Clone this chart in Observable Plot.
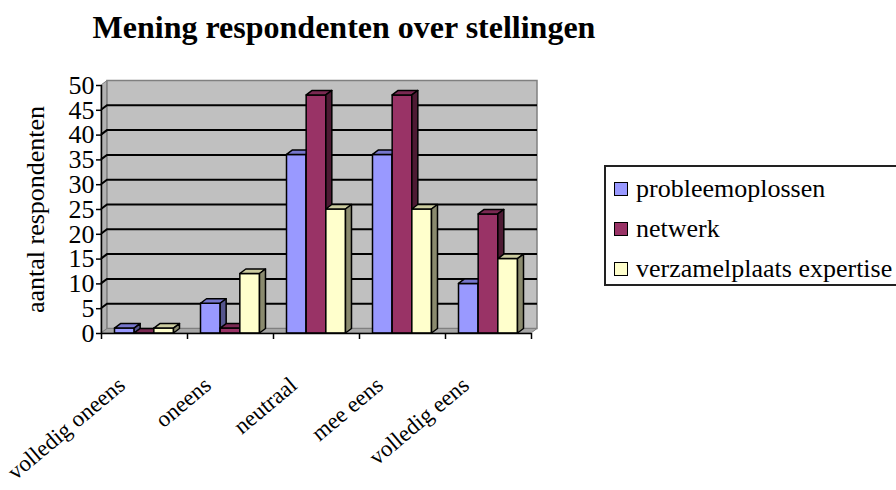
<!DOCTYPE html>
<html>
<head>
<meta charset="utf-8">
<script src="https://cdn.jsdelivr.net/npm/d3@7"></script>
<script src="https://cdn.jsdelivr.net/npm/@observablehq/plot@0.6"></script>
<style>
  html, body { margin: 0; padding: 0; background: #fff; }
  #wrap { position: relative; width: 896px; height: 490px; overflow: hidden; font-family: "Liberation Serif", "Times New Roman", serif; }
  #title { position: absolute; left: 0; top: 11px; width: 688px; text-align: center; font-weight: bold; font-size: 32px; line-height: 32px; color: #000; }
  #legend { position: absolute; left: 604px; top: 165px; width: 320px; height: 115px; border: 2px solid #222; background: #fff; padding-top: 2px; box-sizing: content-box; }
  .item { display: flex; align-items: center; height: 40px; font-size: 26px; color: #000; white-space: nowrap; font-family: "Liberation Serif", serif; }
  .sw { width: 12px; height: 12px; border: 1.5px solid #000; margin-left: 8px; margin-right: 8px; flex: none; }
  #chart { position: absolute; left: 0; top: 0; }
  #chart svg text { font-family: "Liberation Serif", "Times New Roman", serif; }
</style>
</head>
<body>
<div id="wrap">
  <div id="chart"></div>
  <div id="title">Mening respondenten over stellingen</div>
  <div id="legend"></div>
</div>
<script>
// ---- data ----
const categories = ["volledig oneens", "oneens", "neutraal", "mee eens", "volledig eens"];
const series = ["probleemoplossen", "netwerk", "verzamelplaats expertise"];
const probleemoplossen = [1, 6, 36, 36, 10];
const netwerk = [0, 1, 48, 48, 24];
const verzamelplaats = [1, 12, 25, 25, 15];
const yTicks = [0, 5, 10, 15, 20, 25, 30, 35, 40, 45, 50];
const yTitle = "aantal respondenten";

// ---- styles ----
const SERIF = "Liberation Serif";
const fronts = ["#9999FF", "#993366", "#FFFFCC"];
const tops = ["#7676CC", "#7A2952", "#CCCCA0"];
const sides = ["#55558E", "#4D1A33", "#8A8A6E"];
const DX = 6, DY = 4.5;       // 3D depth offset in px
const GROUP = 0.686;          // fraction of category band used by a group

const valuesBySeries = [probleemoplossen, netwerk, verzamelplaats];
const rows = categories.flatMap((c, ci) => series.map((s, si) => ({category: c, ci, series: s, si, value: valuesBySeries[si][ci]})));
const xBounds = d3.range(categories.length + 1);

function wall(index, {x, y}) {
  const L = x(0), R = x(categories.length), T = y(yTicks[yTicks.length - 1]), B = y(0);
  const g = d3.create("svg:g");
  g.append("path").attr("d", `M${L},${B}L${L},${T}L${L + DX},${T - DY}L${L + DX},${B - DY}Z`)
    .attr("fill", "#b2b2b2").attr("stroke", "#808080").attr("stroke-width", 1);
  g.append("rect").attr("x", L + DX).attr("y", T - DY).attr("width", R - L).attr("height", B - T)
    .attr("fill", "#c0c0c0").attr("stroke", "#808080").attr("stroke-width", 1.5);
  g.append("path").attr("d", `M${L},${B}L${R},${B}L${R + DX},${B - DY}L${L + DX},${B - DY}Z`)
    .attr("fill", "#a6a6a6").attr("stroke", "#808080").attr("stroke-width", 1);
  for (const v of yTicks) {
    if (v === 0 || v === yTicks[yTicks.length - 1]) continue;
    const yy = y(v);
    g.append("path").attr("d", `M${L},${yy}L${L + DX},${yy - DY}L${R + DX},${yy - DY}`)
      .attr("fill", "none").attr("stroke", "#000").attr("stroke-width", 2);
  }
  return g.node();
}

function bars3d(index, {x, y}) {
  const g = d3.create("svg:g").attr("stroke", "#000").attr("stroke-width", 1.5).attr("stroke-linejoin", "round");
  const w = GROUP / series.length;
  for (const d of rows) {
    const x1 = x(d.ci + 0.5 - GROUP / 2 + d.si * w);
    const x2 = x(d.ci + 0.5 - GROUP / 2 + (d.si + 1) * w);
    const y0 = y(0), yv = y(d.value);
    g.append("rect").attr("x", x1).attr("y", yv).attr("width", x2 - x1).attr("height", y0 - yv).attr("fill", fronts[d.si]);
    g.append("path").attr("d", `M${x1},${yv}L${x1 + DX},${yv - DY}L${x2 + DX},${yv - DY}L${x2},${yv}Z`).attr("fill", tops[d.si]);
    g.append("path").attr("d", `M${x2},${yv}L${x2 + DX},${yv - DY}L${x2 + DX},${y0 - DY}L${x2},${y0}Z`).attr("fill", sides[d.si]);
  }
  return g.node();
}

const chart = Plot.plot({
  width: 896,
  height: 490,
  marginLeft: 101,
  marginRight: 365,
  marginTop: 85,
  marginBottom: 157,
  style: {fontFamily: SERIF, fontSize: "26px", color: "#000", background: "transparent", overflow: "visible"},
  x: {type: "linear", domain: [0, categories.length]},
  y: {domain: [0, yTicks[yTicks.length - 1]]},
  marks: [
    wall,
    Plot.ruleX([0], {stroke: "#000", strokeWidth: 1.5}),
    Plot.axisY(yTicks, {tickSize: 5, tickPadding: 2, fontSize: 26, fontFamily: SERIF, label: null, strokeWidth: 1.5}),
    Plot.axisX(xBounds, {tickSize: 6, tickFormat: () => "", label: null, strokeWidth: 1.5}),
    bars3d,
    Plot.ruleY([0], {stroke: "#000", strokeWidth: 1.5}),
    Plot.text(categories, {x: (d, i) => i + 0.5, y: () => 0, text: d => d, rotate: -40, textAnchor: "end", lineAnchor: "bottom", dx: -18, dy: 54, fontSize: 23, fontFamily: SERIF, fill: "#000"}),
    Plot.text([yTitle], {frameAnchor: "left", dx: -66, rotate: -90, textAnchor: "middle", lineAnchor: "middle", fontSize: 26, fontFamily: SERIF, fill: "#000"})
  ]
});
document.getElementById("chart").appendChild(chart);

const legend = document.getElementById("legend");
series.forEach((s, i) => {
  const it = document.createElement("div");
  it.className = "item";
  const sw = document.createElement("span");
  sw.className = "sw";
  sw.style.background = fronts[i];
  it.appendChild(sw);
  it.appendChild(document.createTextNode(s));
  legend.appendChild(it);
});
</script>
</body>
</html>
